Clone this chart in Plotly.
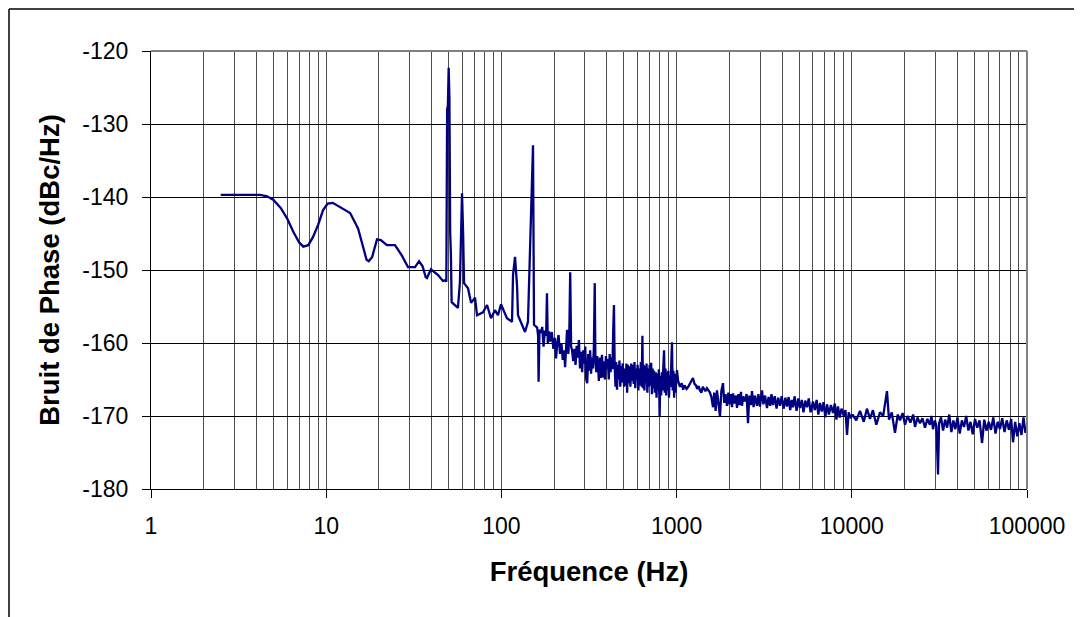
import plotly.graph_objects as go

# Frequency (Hz) and phase noise (dBc/Hz)
freq_hz = [
    2.5, 3, 3.5, 4.2, 4.6, 5.0, 5.5, 6.0, 6.5, 7.0, 7.4, 7.9, 8.4, 9.0, 9.6, 10.2, 10.9, 12.0, 13.7, 15.2,
    16.2, 17.0, 17.5, 18.3, 19.5, 20.5, 22.2, 24.7, 27, 29.3, 32.1, 33.9, 35.5, 37.0, 37.6, 39.6, 43.5, 46.4, 48.0,
    48.5, 49.0, 49.5, 50.0, 50.5, 51.0, 51.5, 52.0, 56.5, 58.0, 59.6, 60.5, 61.2, 64.5, 67.1, 70.7, 72.6, 78.5,
    82.8, 87.2, 91.9, 95.6, 99.5, 107.6, 115, 116.5, 119.6, 122.8, 124.4, 131.1, 136.4, 141.8, 147.5, 151.5,
    153.5, 159.7,
    160, 162, 163, 165, 168, 171, 174, 177, 180, 182, 184, 187, 190, 194, 198, 202, 205, 208, 212, 216, 220,
    224, 228, 231, 234, 237, 241, 244, 247, 250, 253,
    257, 261, 265, 269, 273, 277, 281, 285, 289, 293, 297, 301, 305, 309, 313, 317, 321, 325, 329, 333, 337,
    341, 344, 348, 352, 356, 360, 365, 370, 375, 380, 385, 390, 395, 400, 405, 410, 415, 420, 425, 430, 435,
    439, 443, 448, 452, 457, 462, 467, 472, 477, 482, 487, 492, 497, 502, 507, 512, 517, 522, 527, 533, 539,
    545, 551, 557, 563, 569, 575, 581, 587, 593, 599, 605, 611, 618, 625, 632, 638, 643, 649, 655, 661, 667,
    674, 681, 688, 695, 702, 709, 716, 723, 730, 737, 744, 752, 760, 768, 776, 784, 792, 800, 808, 816, 824,
    832, 840, 848, 856, 864, 872, 880, 888, 896, 905, 914, 923, 932, 941, 950, 959, 968, 977, 986, 995, 1005,
    1020, 1046, 1070, 1090, 1110, 1140, 1165, 1190, 1215, 1240, 1265, 1290, 1310, 1335, 1360, 1385, 1410,
    1435, 1460, 1490, 1520, 1550, 1580, 1614,
    1640, 1670, 1700, 1735, 1769, 1800, 1840, 1870, 1900, 1940, 1975, 2010, 2040, 2071, 2100, 2140, 2180,
    2212, 2250, 2290, 2330, 2362, 2400, 2457, 2510, 2556, 2600, 2650, 2694, 2750, 2800, 2877, 2930, 2990,
    3072, 3130, 3200, 3281, 3350, 3420, 3480, 3550, 3630, 3720, 3800, 3892, 3980, 4080, 4180, 4267, 4360,
    4450, 4540, 4617, 4720, 4840, 4950, 5062, 5180, 5300, 5420, 5550, 5680, 5820, 6004, 6150, 6300, 6440,
    6585, 6740, 6900, 7060, 7219, 7400, 7600, 7811, 8000, 8170, 8341, 8530, 8730, 9000, 9200, 9390, 9600, 9850,
    10100, 10600, 11140, 11700, 12200, 12700, 13200, 13800, 14490, 15100, 15500, 15880, 16300, 16900, 17640,
    18300, 18842, 19500, 20120, 20800, 21600, 22400, 22950, 23700, 24500, 25300, 26170, 27000, 27900, 28500,
    29070, 29800, 30400, 31050, 31500,
    32300, 33200, 34100, 35000, 36000, 37000, 38000, 39000, 40100, 41300, 42500, 43700, 45000, 46300, 47600,
    49000, 50500, 52000, 53600, 55400, 57000, 58700, 60500, 62300, 64200, 66100, 68100, 70100, 72200, 74400,
    76600, 78900, 81200, 83200, 85600, 88000, 90500, 93000, 95500, 98000, 100000,
]

noise_dbc = [
    -139.7, -139.7, -139.7, -139.7, -139.9, -140.4, -141.5, -143.0, -144.8, -146.2, -146.8, -146.6, -145.5,
    -143.8, -141.8, -140.9, -140.8, -141.4, -142.2, -144.3,
    -146.8, -148.6, -148.8, -148.2, -145.8, -145.9, -146.6, -146.6, -148.0, -149.6, -149.6, -148.8, -149.5,
    -151.0, -151.1, -149.9, -150.7, -151.5, -151.4,
    -151.6, -128.0, -127.5, -122.3, -126.4, -144.8, -147.9, -154.4, -155.2, -151.6, -139.5, -145.2, -151.8,
    -152.5, -154.5, -153.8, -156.2, -155.8,
    -154.8, -156.6, -155.5, -156.2, -154.7, -156.6, -157.1, -150.7, -148.2, -152.1, -156.2, -157.5, -158.5,
    -157.1, -144.2, -132.9,
    -157.5, -157.9,
    -157.9, -159.0, -165.3, -158.2, -158.6, -157.8, -160.5, -158.3, -159.0, -153.2, -160.0, -158.4, -159.8,
    -158.5, -160.8, -159.3, -162.1, -160.2, -158.9, -161.5, -160.0,
    -162.3, -161.0, -163.3, -160.3, -158.2, -161.5, -159.0, -150.3, -160.5, -161.0,
    -162.5, -160.8, -163.0, -160.4, -162.0, -159.6, -163.5, -161.2, -164.0, -161.0, -162.8, -160.5, -165.0,
    -165.5, -161.5, -163.8, -161.0, -164.2, -162.0, -163.5, -160.8,
    -151.8, -162.5, -164.0, -161.8, -163.0, -165.2, -162.0, -164.8, -161.6, -164.7, -162.5, -165.0, -161.8,
    -163.5, -162.2, -165.0, -161.5, -164.0, -162.0, -163.6, -158.0,
    -154.8, -163.0, -166.0, -162.6, -166.4, -163.0, -165.0, -162.4, -166.0, -163.2, -165.4, -162.8, -164.0,
    -166.0, -163.5, -165.8, -162.8, -166.8, -163.0, -165.5, -163.2,
    -166.0, -162.8, -165.2, -163.0, -165.6, -162.6, -166.2, -163.5, -165.0, -163.0, -166.5, -163.5, -165.8,
    -162.6, -166.0, -159.0, -166.2, -163.0, -166.5, -163.2, -165.5,
    -162.8, -166.8, -163.5, -166.0, -163.0, -165.8, -162.7, -167.0, -163.5, -166.2, -163.8, -166.8, -164.0,
    -167.5, -164.2, -166.5, -163.6, -170.0, -164.5, -167.2, -164.0,
    -166.5, -163.2, -161.0, -166.8, -163.5, -167.2, -164.0, -166.5, -163.8, -167.5, -164.5, -166.0, -163.2,
    -159.9, -166.5, -163.8, -167.5, -164.2, -166.8, -164.0, -163.7,
    -165.2, -166.0, -165.5, -166.4, -165.8, -166.3, -166.0, -165.6, -165.2, -164.8, -165.6, -165.8, -166.3,
    -165.9, -166.5, -166.8, -166.0, -166.3, -166.6, -166.2, -166.5, -166.8, -167.4, -168.8,
    -166.8, -169.3, -166.5, -168.0, -170.1, -166.6, -165.5, -168.2, -167.0, -168.6, -166.8, -168.4, -167.0,
    -168.8, -166.9, -168.3, -167.2,
    -168.9, -167.0, -168.5, -166.7, -168.6, -167.3, -168.0, -167.0, -171.0, -167.2, -168.5, -166.6, -168.8,
    -167.2, -168.6, -167.0, -168.7,
    -166.5, -168.4, -167.2, -168.9, -167.4, -168.6, -167.0, -168.5, -167.3, -169.0, -167.5, -168.6, -167.3,
    -169.0, -167.5, -168.7, -167.4,
    -169.2, -167.8, -168.8, -167.3, -169.3, -167.6, -168.9, -167.8, -169.5, -167.9, -168.8, -167.6, -169.5,
    -168.0, -169.2, -167.8, -169.8,
    -168.2, -169.4, -168.1, -170.2, -168.4, -169.8, -168.5, -169.6, -168.3, -170.5, -168.7, -170.2, -169.0,
    -170.0, -169.2, -172.6, -169.5, -170.3,
    -169.8, -170.6, -169.3, -170.8, -169.0, -170.4, -169.2, -171.2, -169.5, -170.0, -168.5, -166.6, -170.5,
    -169.5, -172.3,
    -169.8, -170.6, -169.6, -171.2, -170.0, -170.9, -169.8, -171.5, -170.2, -171.0, -170.3, -171.6, -170.4,
    -171.2, -170.0,
    -171.8, -170.6, -171.4, -178.0, -171.0,
    -170.2, -172.0, -170.5, -171.6, -169.8, -172.2, -170.6, -171.8, -170.2, -172.4, -170.6, -171.5, -170.0,
    -172.0, -170.8,
    -172.5, -170.4, -171.6, -170.6, -173.7, -170.5, -172.0, -170.8, -171.9, -170.2, -172.4, -170.8, -171.8,
    -170.3, -172.2,
    -170.6, -171.9, -170.4, -173.6, -170.8, -172.8, -171.0, -172.6, -170.2, -172.3, -171.5,
]

x_tick_vals = [1, 10, 100, 1000, 10000, 100000]
x_tick_text = ["1", "10", "100", "1000", "10000", "100000"]
x_minor_vals = [m * d for d in [1, 10, 100, 1000, 10000] for m in range(2, 10)]
y_tick_vals = [-180, -170, -160, -150, -140, -130, -120]
y_tick_text = ["-180", "-170", "-160", "-150", "-140", "-130", "-120"]

x_title = "Fréquence (Hz)"
y_title = "Bruit de Phase (dBc/Hz)"

FONT = "Liberation Sans, Arial, sans-serif"

fig = go.Figure()
fig.add_trace(go.Scatter(
    x=freq_hz, y=noise_dbc, mode="lines",
    line=dict(color="#000080", width=2.3),
    showlegend=False, hoverinfo="x+y",
))

fig.update_layout(
    width=1082, height=617,
    margin=dict(l=143, r=63, t=43, b=136),
    paper_bgcolor="white", plot_bgcolor="white",
    font=dict(family=FONT, color="black", size=22),
    xaxis=dict(
        type="log", range=[0, 5],
        tickmode="array", tickvals=x_tick_vals, ticktext=x_tick_text,
        ticks="outside", ticklen=8, tickcolor="black", tickwidth=1,
        showgrid=True, gridcolor="#4d4d4d", gridwidth=1,
        minor=dict(tickmode="array", tickvals=x_minor_vals, showgrid=True,
                   gridcolor="#4d4d4d", gridwidth=1, ticks=""),
        showline=True, linecolor="black", linewidth=1,
        zeroline=False,
        tickfont=dict(size=23, family=FONT),
        ticklabelstandoff=8,
        title=dict(text="<b>" + x_title + "</b>", font=dict(size=27.5, family=FONT), standoff=24),
    ),
    yaxis=dict(
        range=[-180, -120],
        tickmode="array", tickvals=y_tick_vals, ticktext=y_tick_text,
        ticks="outside", ticklen=8, tickcolor="black", tickwidth=1,
        showgrid=True, gridcolor="black", gridwidth=1,
        showline=True, linecolor="black", linewidth=1,
        zeroline=False,
        tickfont=dict(size=23, family=FONT),
        ticklabelstandoff=9,
        title=dict(text="<b>" + y_title + "</b>", font=dict(size=27.5, family=FONT), standoff=14),
    ),
    shapes=[
        # gray plot-area frame (top/right)
        dict(type="line", xref="paper", yref="paper", x0=0, x1=1, y0=1, y1=1,
             line=dict(color="#808080", width=2), layer="above"),
        dict(type="line", xref="paper", yref="paper", x0=1, x1=1, y0=0, y1=1,
             line=dict(color="#808080", width=2), layer="above"),
        # chart-area border (top and left visible)
        dict(type="line", xref="paper", yref="paper", x0=-0.1621, x1=1.2, y0=1.0959, y1=1.0959,
             line=dict(color="black", width=1.5)),
        dict(type="line", xref="paper", yref="paper", x0=-0.1621, x1=-0.1621, y0=1.0959, y1=-0.5,
             line=dict(color="black", width=1.5)),
    ],
)

fig.write_html("out.html")
